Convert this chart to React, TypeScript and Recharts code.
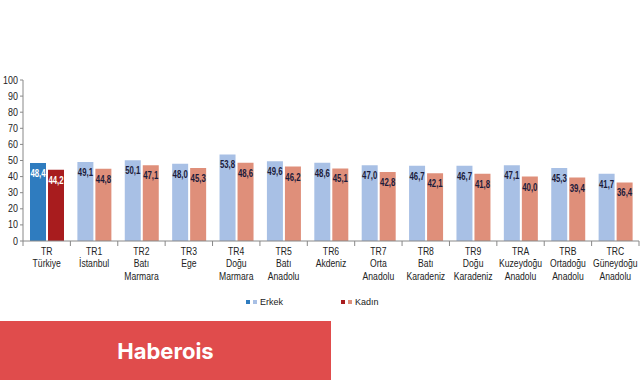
import { Bar, BarChart, Cell, LabelList, XAxis, YAxis } from 'recharts';

// Bölgeler (kod + ad satırları)
const codes = ['TR', 'TR1', 'TR2', 'TR3', 'TR4', 'TR5', 'TR6', 'TR7', 'TR8', 'TR9', 'TRA', 'TRB', 'TRC'];
const names = [
  ['Türkiye'],
  ['İstanbul'],
  ['Batı', 'Marmara'],
  ['Ege'],
  ['Doğu', 'Marmara'],
  ['Batı', 'Anadolu'],
  ['Akdeniz'],
  ['Orta', 'Anadolu'],
  ['Batı', 'Karadeniz'],
  ['Doğu', 'Karadeniz'],
  ['Kuzeydoğu', 'Anadolu'],
  ['Ortadoğu', 'Anadolu'],
  ['Güneydoğu', 'Anadolu'],
];
const erkek = [48.4, 49.1, 50.1, 48.0, 53.8, 49.6, 48.6, 47.0, 46.7, 46.7, 47.1, 45.3, 41.7];
const kadin = [44.2, 44.8, 47.1, 45.3, 48.6, 46.2, 45.1, 42.8, 42.1, 41.8, 40.0, 39.4, 36.4];
const yTicks = [0, 10, 20, 30, 40, 50, 60, 70, 80, 90, 100];

const data = codes.map((code, i) => ({ code, erkek: erkek[i], kadin: kadin[i] }));

const FONT = '"Liberation Sans", Arial, sans-serif';
const fmt = (v: any) => Number(v).toFixed(1).replace('.', ',');

// Arial Narrow yok, metni yatayda sıkıştırıyoruz
const RegionTick = ({ x, y, payload, index }: any) => {
  const half = payload.offset || 0;
  const lines = [payload.value, ...names[index]];
  return (
    <g>
      <line x1={x - half} x2={x - half} y1={y - 8} y2={y - 3} stroke="#888" />
      {index === codes.length - 1 && (
        <line x1={x + half} x2={x + half} y1={y - 8} y2={y - 3} stroke="#888" />
      )}
      <g transform={`translate(${x},${y}) scale(0.82,1)`}>
        <text x={0} y={0} textAnchor="middle" fontSize={10.5} fill="#222" fontFamily={FONT}>
          {lines.map((l: string, k: number) => (
            <tspan key={k} x={0} dy={k === 0 ? 6 : 12.5}>
              {l}
            </tspan>
          ))}
        </text>
      </g>
    </g>
  );
};

const YTick = ({ x, y, payload }: any) => (
  <g transform={`translate(${x},${y}) scale(0.85,1)`}>
    <text x={0} y={0} dy={3.5} textAnchor="end" fontSize={10.5} fill="#222" fontFamily={FONT}>
      {payload.value}
    </text>
  </g>
);

const valueLabel = (p: any) => (
  <g transform={`translate(${p.x + p.width / 2},${p.y + 14}) scale(0.78,1)`}>
    <text
      x={0}
      y={0}
      textAnchor="middle"
      fontSize={10}
      fontWeight="bold"
      fontFamily={FONT}
      fill={p.index === 0 ? '#fff' : '#1b1b3a'}
    >
      {fmt(p.value)}
    </text>
  </g>
);

const sq = (c: string) => (
  <span style={{ width: 4, height: 4, background: c, display: 'inline-block' }} />
);

const App = () => {
  return (
    <div style={{ position: 'absolute', left: 0, top: 0, width: 641, height: 380, background: '#fff' }}>
      <BarChart
        width={641}
        height={290}
        data={data}
        margin={{ top: 80, right: 2, left: 3, bottom: 0 }}
        barGap={2}
        barSize={16}
      >
        <YAxis
          domain={[0, 100]}
          ticks={yTicks}
          width={20}
          interval={0}
          tick={<YTick />}
          tickSize={3}
          tickMargin={2}
          axisLine={{ stroke: '#888' }}
          tickLine={{ stroke: '#888' }}
        />
        <XAxis
          dataKey="code"
          height={49}
          interval={0}
          tick={<RegionTick />}
          tickLine={false}
          axisLine={{ stroke: '#888' }}
        />
        <Bar dataKey="erkek" isAnimationActive={false}>
          {data.map((d, i) => (
            <Cell key={d.code} fill={i === 0 ? '#2f7cbf' : '#a8c0e5'} />
          ))}
          <LabelList dataKey="erkek" content={valueLabel} />
        </Bar>
        <Bar dataKey="kadin" isAnimationActive={false}>
          {data.map((d, i) => (
            <Cell key={d.code} fill={i === 0 ? '#a81c1e' : '#df8f7a'} />
          ))}
          <LabelList dataKey="kadin" content={valueLabel} />
        </Bar>
      </BarChart>

      <div
        style={{
          position: 'absolute',
          top: 297,
          left: 246,
          display: 'flex',
          alignItems: 'center',
          gap: 3,
          fontFamily: FONT,
          fontSize: 9,
          color: '#222',
        }}
      >
        {sq('#2f7cbf')}
        {sq('#a8c0e5')}
        <span>Erkek</span>
      </div>
      <div
        style={{
          position: 'absolute',
          top: 297,
          left: 341,
          display: 'flex',
          alignItems: 'center',
          gap: 3,
          fontFamily: FONT,
          fontSize: 9,
          color: '#222',
        }}
      >
        {sq('#a81c1e')}
        {sq('#df8f7a')}
        <span>Kadın</span>
      </div>

      <div
        style={{
          position: 'absolute',
          left: 0,
          top: 321,
          width: 331,
          height: 59,
          background: '#e04c4c',
          color: '#fff',
          display: 'flex',
          alignItems: 'center',
          justifyContent: 'center',
          fontFamily: 'Inter, "Liberation Sans", sans-serif',
          fontWeight: 700,
          fontSize: 22,
        }}
      >
        Haberois
      </div>
    </div>
  );
};

export default App;
